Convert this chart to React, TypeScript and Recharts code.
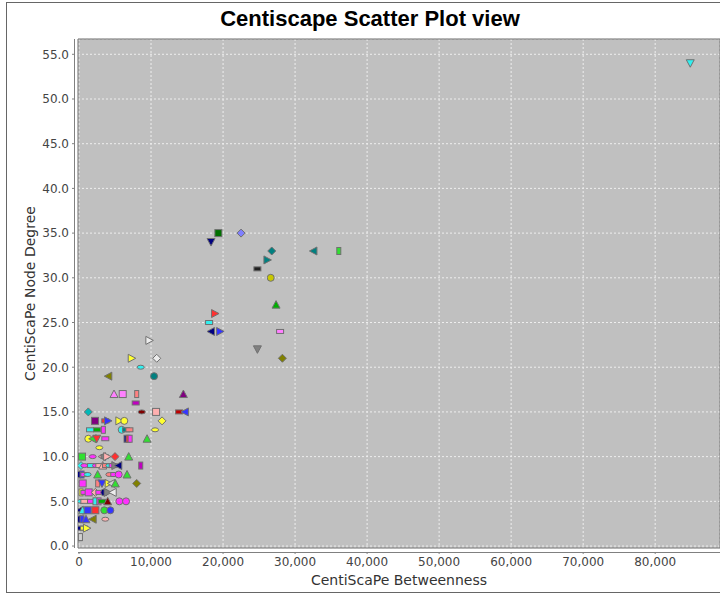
import { ScatterChart, Scatter, XAxis, YAxis, CartesianGrid, ReferenceArea } from 'recharts';

// one entry per node: betweenness, degree, marker code (shape:tone)
const betweenness = [
  84870,
  19350, 22500, 18330, 26760, 32550, 36070, 26160, 24770, 26620, 27360, 18890, 18060, 18330, 19590, 27920,
  9770, 24770, 7320, 10790, 28240, 8570, 4070, 10420, 4860, 6070, 8010, 14490, 7870,
  1290, 8710, 10700, 13900, 14700,
  2220, 3650, 4030, 5600, 6290, 11530,
  1530, 2500, 3380, 5930, 6530, 7000, 10560,
  1290, 1900, 2460, 3650, 6530, 6810, 7100, 9450,
  2820,
  420, 1900, 3200, 3550, 3900, 5000, 6900,
  280, 740, 1670, 2360, 2820, 3290, 3750, 4210, 4680, 5040, 5460, 8570,
  140, 420, 740, 1200, 2590, 4210, 4900, 5510, 6670,
  510, 2590, 3190, 4120, 4490, 5040, 8010,
  280, 740, 1340, 2270, 2820, 3510, 3980, 4680,
  280, 740, 1670, 2220, 2780, 3190, 3980, 5600, 6530,
  100, 510, 1200, 2270, 3510, 4350,
  100, 420, 970, 1900, 3650,
  280, 700, 1100,
  60, 200,
];

const degree = [
  54,
  35, 35, 34, 33, 33, 33, 32, 31, 30, 27, 26, 25, 24, 24, 24,
  23, 22, 21, 21, 21, 20, 19, 19, 17, 17, 17, 17, 16,
  15, 15, 15, 15, 15,
  14, 14, 14, 14, 14, 14,
  13, 13, 13, 13, 13, 13, 13,
  12, 12, 12, 12, 12, 12, 12, 12,
  11,
  10, 10, 10, 10, 10, 10, 10,
  9, 9, 9, 9, 9, 9, 9, 9, 9, 9, 9, 9,
  8, 8, 8, 8, 8, 8, 8, 8, 8,
  7, 7, 7, 7, 7, 7, 7,
  6, 6, 6, 6, 6, 6, 6, 6,
  5, 5, 5, 5, 5, 5, 5, 5, 5,
  4, 4, 4, 4, 4, 4,
  3, 3, 3, 3, 3,
  2, 2, 2,
  1, 1,
];

const markers = [
  'v:cyan',
  's:vdgreen', 'd:lblue', 'v:navy', 'd:teal', 'l:teal', 'vr:green', 'r:teal', 'hr:black', 'c:dyellow', 't:dgreen', 'r:red', 'hr:cyan', 'l:navy', 'r:blue', 'hr:lmag',
  'r:white', 'v:gray', 'r:yellow', 'd:white', 'd:olive', 'e:cyan', 'l:olive', 'c:teal', 't:lmag', 's:lmag', 'vr:lred', 't:vdmag', 'hr:dmag',
  'd:dcyan', 'e:vdred', 's:pink', 'hr:dred', 'l:blue',
  's:vdmag', 'hr:red', 'r:blue', 'r:yellow', 'c:yellow', 'd:yellow',
  'hr:cyan', 'hr:dgreen', 'vr:magenta', 'c:cyan', 'hr:teal', 'hr:lred', 'e:yellow',
  'c:yellow', 'l:green', 'v:red', 'hr:magenta', 'vr:navy', 'vr:red', 'vr:magenta', 't:green',
  'e:yellow',
  's:green', 'e:magenta', 'l:pink', 'hr:gray', 'r:pink', 'd:red', 't:green',
  'd:cyan', 'e:magenta', 'hr:cyan', 'e:magenta', 'hr:pink', 't:pink', 'hr:lred', 'e:cyan', 'hr:magenta', 'r:gray', 'l:navy', 'vr:dmag',
  'c:navy', 'vr:blue', 'hr:magenta', 'e:cyan', 't:green', 'e:lred', 'hr:magenta', 'c:magenta', 't:green',
  's:magenta', 'vr:lred', 'v:blue', 'r:yellow', 'l:lgray', 't:green', 'd:olive',
  'vr:yellow', 'hr:magenta', 's:magenta', 'd:pink', 'hr:magenta', 'c:navy', 'r:gray', 'l:white',
  'e:cyan', 'hr:pink', 'hr:magenta', 'vr:cyan', 'vr:magenta', 'hr:dgreen', 't:vdred', 'c:magenta', 'c:magenta',
  'l:navy', 't:cyan', 's:blue', 's:red', 'c:green', 'c:blue',
  'c:navy', 'vr:blue', 't:blue', 'l:olive', 'e:pink',
  'hr:navy', 'hr:yellow', 'r:yellow',
  'vr:lgray', 'vr:lgray',
];

const xTicks = [0, 10000, 20000, 30000, 40000, 50000, 60000, 70000, 80000];
const yTicks = [0, 2.5, 5, 7.5, 10, 12.5, 15, 17.5, 20, 22.5, 25, 27.5, 30, 32.5, 35, 37.5, 40, 42.5, 45, 47.5, 50, 52.5, 55];

const tones: Record<string, string> = {
  red: '#ff3030', blue: '#3535ff', green: '#30e030', yellow: '#ffff30', magenta: '#ff30ff',
  cyan: '#30f0f0', pink: '#ffb0b0', gray: '#808080', dred: '#c00000', dgreen: '#00b000',
  dyellow: '#c8c800', dmag: '#c000c0', dcyan: '#00b8b8', white: '#ececec', lgray: '#d0d0d0',
  vdred: '#800000', navy: '#000080', vdgreen: '#007000', olive: '#808000', vdmag: '#800080',
  teal: '#008080', lred: '#ff8080', lblue: '#8080ff', lmag: '#ff80ff', black: '#202020',
};

const data = betweenness.map((b, i) => ({ x: b, y: degree[i], marker: markers[i] }));

const tickFont = { fontFamily: 'DejaVu Sans', fontSize: 12, fill: '#444' };

const renderMarker = (props: any) => {
  const { cx, cy, payload } = props;
  if (cx == null || cy == null) return <g />;
  const [kind, tone] = String(payload.marker).split(':');
  const p = { fill: tones[tone] ?? '#999', stroke: '#707070', strokeWidth: 1 };
  const pts = (arr: number[][]) => arr.map(([a, b]) => `${cx + a},${cy + b}`).join(' ');
  switch (kind) {
    case 's': return <rect x={cx - 3.5} y={cy - 3.5} width={7} height={7} {...p} />;
    case 'c': return <circle cx={cx} cy={cy} r={3.5} {...p} />;
    case 't': return <polygon points={pts([[0, -4], [4, 3.5], [-4, 3.5]])} {...p} />;
    case 'v': return <polygon points={pts([[0, 4], [4, -3.5], [-4, -3.5]])} {...p} />;
    case 'r': return <polygon points={pts([[4, 0], [-3.5, -4], [-3.5, 4]])} {...p} />;
    case 'l': return <polygon points={pts([[-4, 0], [3.5, -4], [3.5, 4]])} {...p} />;
    case 'd': return <polygon points={pts([[0, -4], [4, 0], [0, 4], [-4, 0]])} {...p} />;
    case 'hr': return <rect x={cx - 3.5} y={cy - 2} width={7} height={4} {...p} />;
    case 'vr': return <rect x={cx - 2} y={cy - 3.5} width={4} height={7} {...p} />;
    case 'e': return <ellipse cx={cx} cy={cy} rx={3.5} ry={2} {...p} />;
    default: return <circle cx={cx} cy={cy} r={3} {...p} />;
  }
};

const XTick = ({ x, y, payload }: any) => (
  <g>
    <line x1={x} x2={x} y1={y - 4} y2={y - 2} stroke="#808080" />
    <text x={x} y={y} dy="0.85em" textAnchor="middle" {...tickFont}>
      {Number(payload.value).toLocaleString('en-US')}
    </text>
  </g>
);

const YTick = ({ x, y, payload }: any) => (
  <g>
    <line x1={x + 3} x2={x + 5} y1={y} y2={y} stroke="#808080" />
    <text x={x} y={y} dy="0.36em" textAnchor="end" {...tickFont}>
      {Number(payload.value).toFixed(1)}
    </text>
  </g>
);

export default function App() {
  return (
    <div style={{ position: 'absolute', left: 0, top: 0, width: 720, height: 596, overflow: 'hidden', background: '#fff' }}>
      <div style={{ position: 'absolute', left: 6, top: 2, width: 780, height: 589, border: '1px solid #666' }} />
      <div
        style={{
          position: 'absolute', left: 6, top: 8, width: 728, textAlign: 'center',
          fontFamily: 'Liberation Sans, Arial, sans-serif', fontWeight: 'bold', fontSize: 22, lineHeight: '22px', color: '#000',
        }}
      >
        Centiscape Scatter Plot view
      </div>
      <div style={{ position: 'absolute', left: 74, top: 39, width: 1, height: 509, background: '#808080' }} />
      <div style={{ position: 'absolute', left: 78, top: 552, width: 660, height: 1, background: '#808080' }} />
      <div style={{ position: 'absolute', left: 0, top: 0 }}>
        <ScatterChart width={720} height={596} margin={{ top: 39, right: 0, bottom: 8, left: 18 }}>
          <CartesianGrid fill="#c0c0c0" stroke="#eeeeee" strokeDasharray="2 2" />
          <XAxis
            type="number"
            dataKey="x"
            domain={[-140, 89000]}
            ticks={xTicks}
            allowDataOverflow
            height={40}
            axisLine={false}
            tickLine={false}
            tickSize={0}
            tickMargin={8}
            tick={<XTick />}
            label={{
              value: 'CentiScaPe Betweenness', position: 'insideBottom', offset: 3,
              style: { fontFamily: 'DejaVu Sans', fontSize: 14, fill: '#333' },
            }}
          />
          <YAxis
            type="number"
            dataKey="y"
            domain={[-0.22, 56.71]}
            ticks={yTicks}
            allowDataOverflow
            width={60}
            axisLine={false}
            tickLine={false}
            tickSize={0}
            tickMargin={9}
            tick={<YTick />}
            label={{
              value: 'CentiScaPe Node Degree', angle: -90, position: 'insideLeft', offset: 12,
              style: { fontFamily: 'DejaVu Sans', fontSize: 14, fill: '#333', textAnchor: 'middle' },
            }}
          />
          <ReferenceArea x1={-140} x2={89000} y1={-0.22} y2={56.71} fill="none" stroke="#707070" ifOverflow="visible" />
          <Scatter data={data} shape={renderMarker} isAnimationActive={false} />
        </ScatterChart>
      </div>
    </div>
  );
}
